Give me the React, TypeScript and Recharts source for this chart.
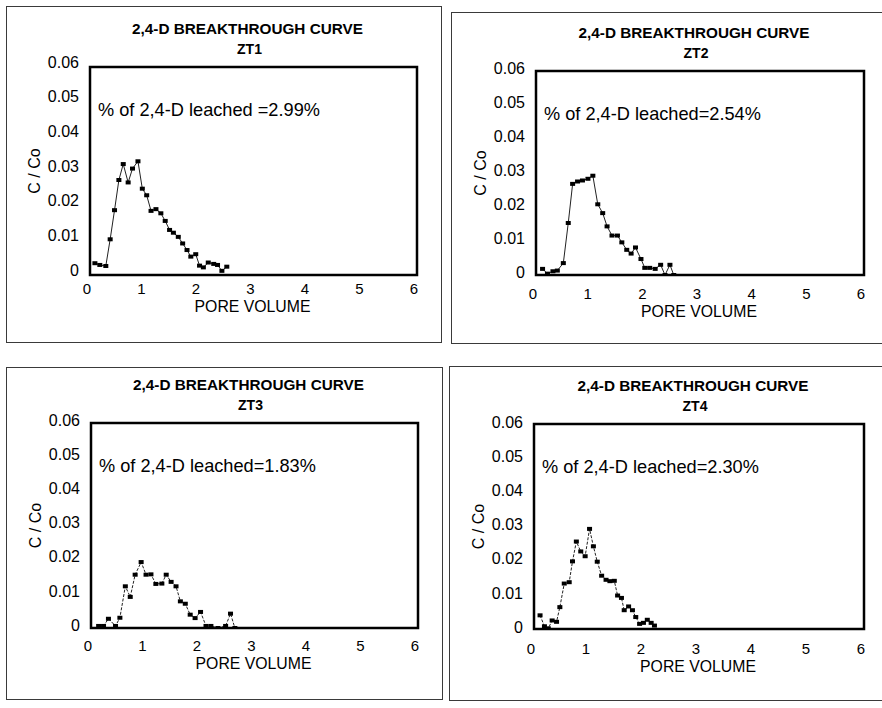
import React from 'react';
import { ScatterChart, Scatter, XAxis, YAxis, ReferenceArea, Label } from 'recharts';

const chartTitle = '2,4-D BREAKTHROUGH CURVE';
const xAxisTitle = 'PORE VOLUME';
const yAxisTitle = 'C / Co';
const panelNames = ['ZT1', 'ZT2', 'ZT3', 'ZT4'];
const leachedNotes = [
  '% of 2,4-D leached =2.99%',
  '% of 2,4-D leached=2.54%',
  '% of 2,4-D leached=1.83%',
  '% of 2,4-D leached=2.30%',
];
const poreVolumeTicks = [0, 1, 2, 3, 4, 5, 6];
const ratioTicks = [0, 0.01, 0.02, 0.03, 0.04, 0.05, 0.06];

const zt1PoreVolume = [0.09, 0.18, 0.29, 0.37, 0.45, 0.53, 0.61, 0.70, 0.78, 0.88, 0.96, 1.04, 1.12, 1.21, 1.30, 1.38, 1.46, 1.53, 1.62, 1.70, 1.78, 1.85, 1.94, 2.01, 2.08, 2.17, 2.27, 2.34, 2.42, 2.51];
const zt1Ratio = [0.0034, 0.0029, 0.0026, 0.0103, 0.0187, 0.0274, 0.0320, 0.0267, 0.0307, 0.0328, 0.0249, 0.0230, 0.0185, 0.0190, 0.0178, 0.0156, 0.0130, 0.0122, 0.0110, 0.0091, 0.0072, 0.0053, 0.0060, 0.0027, 0.0022, 0.0036, 0.0032, 0.0029, 0.0012, 0.0024];

const zt2PoreVolume = [0.12, 0.21, 0.31, 0.39, 0.50, 0.59, 0.67, 0.76, 0.85, 0.95, 1.04, 1.13, 1.22, 1.30, 1.39, 1.49, 1.57, 1.66, 1.74, 1.82, 1.92, 1.99, 2.08, 2.18, 2.28, 2.36, 2.45, 2.52];
const zt2Ratio = [0.0018, 0.0004, 0.0011, 0.0013, 0.0035, 0.0153, 0.0268, 0.0275, 0.0278, 0.0283, 0.0292, 0.0208, 0.0182, 0.0143, 0.0116, 0.0116, 0.0096, 0.0074, 0.0063, 0.0081, 0.0047, 0.0021, 0.0021, 0.0018, 0.0030, 0.0000, 0.0030, 0.0000];

const zt3PoreVolume = [0.14, 0.23, 0.32, 0.45, 0.53, 0.63, 0.72, 0.81, 0.92, 1.01, 1.10, 1.19, 1.30, 1.38, 1.47, 1.56, 1.64, 1.73, 1.82, 1.91, 2.01, 2.11, 2.20, 2.33, 2.47, 2.56, 2.64];
const zt3Ratio = [0.0006, 0.0006, 0.0027, 0.0006, 0.0030, 0.0122, 0.0091, 0.0156, 0.0193, 0.0156, 0.0157, 0.0129, 0.0130, 0.0156, 0.0135, 0.0122, 0.0078, 0.0071, 0.0039, 0.0029, 0.0047, 0.0006, 0.0006, 0.0000, 0.0006, 0.0042, 0.0000];

const zt4PoreVolume = [0.11, 0.19, 0.26, 0.33, 0.41, 0.47, 0.55, 0.64, 0.70, 0.77, 0.85, 0.93, 1.01, 1.08, 1.15, 1.23, 1.31, 1.38, 1.46, 1.52, 1.59, 1.64, 1.72, 1.79, 1.85, 1.92, 1.99, 2.06, 2.13, 2.19];
const zt4Ratio = [0.0040, 0.0008, 0.0002, 0.0025, 0.0021, 0.0064, 0.0133, 0.0137, 0.0198, 0.0256, 0.0227, 0.0213, 0.0293, 0.0242, 0.0197, 0.0156, 0.0144, 0.0140, 0.0141, 0.0098, 0.0091, 0.0055, 0.0066, 0.0055, 0.0035, 0.0015, 0.0018, 0.0027, 0.0018, 0.0010];

const seriesX = [zt1PoreVolume, zt2PoreVolume, zt3PoreVolume, zt4PoreVolume];
const seriesY = [zt1Ratio, zt2Ratio, zt3Ratio, zt4Ratio];

// layout (page pixel coordinates)
const layouts = [
  { frame: { l: 6, t: 6, r: 442, b: 343 }, box: { l: 90, t: 67, r: 417, b: 275 }, xTickDy: 14, xLabelDy: 31, yTickDy: -5, dash: undefined },
  { frame: { l: 451, t: 12, r: 886, b: 344 }, box: { l: 536, t: 71, r: 864, b: 275 }, xTickDy: 19, xLabelDy: 36, yTickDy: -3, dash: undefined },
  { frame: { l: 6, t: 367, r: 443, b: 700 }, box: { l: 91, t: 423, r: 418, b: 628 }, xTickDy: 18, xLabelDy: 35, yTickDy: -3, dash: '3 1.5' },
  { frame: { l: 449, t: 366, r: 886, b: 701 }, box: { l: 534, t: 424, r: 864, b: 629 }, xTickDy: 20, xLabelDy: 37, yTickDy: -2, dash: '3 1.5' },
];

const FONT = "Arial, 'Liberation Sans', Helvetica, sans-serif";
const ML = 30;
const YW = 60;
const MT = 70;
const MR = 15;
const XH = 50;
const MB = 10;

const Marker = (p: any) => {
  if (p.cx == null || p.cy == null) return null;
  return <rect x={p.cx - 2.5} y={p.cy - 2} width={5} height={4} fill="#000" />;
};

function Panel({ idx }: { idx: number }) {
  const lay = layouts[idx];
  const { box, frame } = lay;
  const data = seriesX[idx].map((x, i) => ({ x, y: seriesY[idx][i] }));
  const W = box.r - box.l + ML + YW + MR;
  const H = box.b - box.t + MT + XH + MB;
  const left = box.l - ML - YW;
  const top = box.t - MT;

  const xTick = (p: any) => (
    <text x={p.x - 3} y={p.y + lay.xTickDy + 5.4} textAnchor="middle" fontSize={15} fontFamily={FONT} fill="#000">
      {String(p.payload.value)}
    </text>
  );
  const yTick = (p: any) => {
    const v = p.payload.value;
    return (
      <text x={p.x - 11} y={p.y + lay.yTickDy + 5.7} textAnchor="end" fontSize={16} fontFamily={FONT} fill="#000">
        {v === 0 ? '0' : v.toFixed(2)}
      </text>
    );
  };

  const frameContent = (p: any) => {
    const vb = p.viewBox || { x: ML + YW, y: MT, width: box.r - box.l, height: box.b - box.t };
    const cx = vb.x + vb.width / 2 - 6;
    return (
      <g>
        <text x={cx} y={vb.y - 38 + 5.2} textAnchor="middle" fontSize={15.3} fontWeight="bold" fontFamily={FONT} fill="#000">
          {chartTitle}
        </text>
        <text x={cx + 2} y={vb.y - 18.5 + 5} textAnchor="middle" fontSize={14} fontWeight="bold" fontFamily={FONT} fill="#000">
          {panelNames[idx]}
        </text>
        <text x={vb.x + 8} y={vb.y + 42.5 + 6.5} textAnchor="start" fontSize={18.2} fontFamily={FONT} fill="#000">
          {leachedNotes[idx]}
        </text>
      </g>
    );
  };

  const xLabel = (p: any) => {
    const vb = p.viewBox || { x: ML + YW, y: MT + box.b - box.t, width: box.r - box.l };
    return (
      <text x={vb.x + vb.width / 2 - 1} y={vb.y + lay.xLabelDy + 5.6} textAnchor="middle" fontSize={15.8} fontFamily={FONT} fill="#000">
        {xAxisTitle}
      </text>
    );
  };
  const yLabel = () => {
    const cxp = ML + YW - 56;
    const cyp = MT + (box.b - box.t) / 2;
    return (
      <text x={cxp} y={cyp} transform={`rotate(-90, ${cxp}, ${cyp})`} dy="0.35em" textAnchor="middle" fontSize={16} fontFamily={FONT} fill="#000">
        {yAxisTitle}
      </text>
    );
  };

  return (
    <>
      <div
        style={{
          position: 'absolute',
          left: frame.l,
          top: frame.t,
          width: frame.r - frame.l,
          height: frame.b - frame.t,
          border: '1px solid #3a3a3a',
          boxSizing: 'border-box',
        }}
      />
      <div style={{ position: 'absolute', left, top, width: W, height: H }}>
        <ScatterChart width={W} height={H} margin={{ top: MT, right: MR, bottom: MB, left: ML }}>
          <XAxis
            type="number"
            dataKey="x"
            domain={[0, 6]}
            ticks={poreVolumeTicks}
            axisLine={false}
            tickLine={false}
            tickSize={0}
            tickMargin={0}
            height={XH}
            tick={xTick}
            allowDataOverflow
          >
            <Label content={xLabel} />
          </XAxis>
          <YAxis
            type="number"
            dataKey="y"
            domain={[0, 0.06]}
            ticks={ratioTicks}
            axisLine={false}
            tickLine={false}
            tickSize={0}
            tickMargin={0}
            width={YW}
            tick={yTick}
            allowDataOverflow
          >
            <Label content={yLabel} />
          </YAxis>
          <ReferenceArea x1={0} x2={6} y1={0} y2={0.06} fill="none" fillOpacity={0} stroke="#000" strokeWidth={2.5} ifOverflow="visible">
            <Label content={frameContent} />
          </ReferenceArea>
          <Scatter
            data={data}
            fill="#000"
            line={{ stroke: '#222', strokeWidth: 1, strokeDasharray: lay.dash }}
            lineType="joint"
            shape={Marker}
            isAnimationActive={false}
          />
        </ScatterChart>
      </div>
    </>
  );
}

export default function App() {
  return (
    <div style={{ position: 'absolute', left: 0, top: 0, width: 882, height: 708, background: '#fff', overflow: 'hidden' }}>
      {[0, 1, 2, 3].map((i) => (
        <Panel key={i} idx={i} />
      ))}
    </div>
  );
}
